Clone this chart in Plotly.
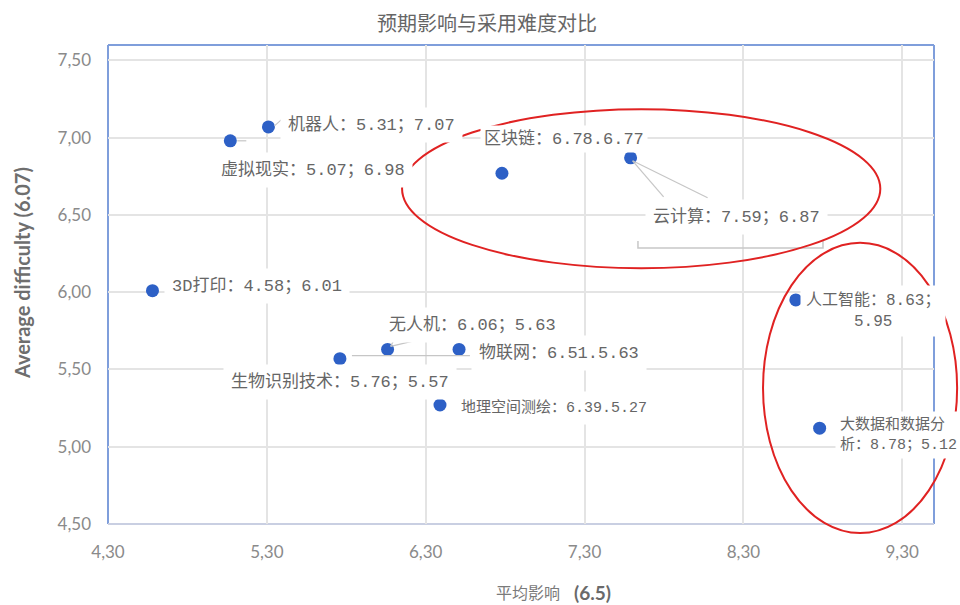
import plotly.graph_objects as go

# Technologies: expected impact (x) vs adoption difficulty (y)
names = ["机器人", "虚拟现实", "区块链", "云计算", "3D打印", "无人机",
         "物联网", "生物识别技术", "地理空间测绘", "人工智能", "大数据和数据分析"]
impact = [5.31, 5.07, 6.78, 7.59, 4.58, 6.06, 6.51, 5.76, 6.39, 8.63, 8.78]
difficulty = [7.07, 6.98, 6.77, 6.87, 6.01, 5.63, 5.63, 5.57, 5.27, 5.95, 5.12]

# label templates (separator style varies per label)
label_tpl = ["{n}：{x}；{y}", "{n}：{x}；{y}", "{n}：{x}.{y}", "{n}：{x}；{y}",
             "{n}：{x}；{y}", "{n}：{x}；{y}", "{n}：{x}.{y}", "{n}：{x}；{y}",
             "{n}：{x}.{y}", "{n}：{x}；<br>{y}", "大数据和数据分<br>析：{x}；{y}"]

x_ticks = [4.3, 5.3, 6.3, 7.3, 8.3, 9.3]
y_ticks = [4.5, 5.0, 5.5, 6.0, 6.5, 7.0, 7.5]

# label placement: (xanchor, text x offset, yshift, align, font size, box padding)
label_pos = [
    ("left", 19, 2, "left", 17, 7),
    ("left", -10, -29, "left", 17, 7),
    ("left", -19, 34, "left", 17, 3),
    ("left", 21, -59, "left", 17, 7),
    ("left", 19, 5, "left", 17, 7),
    ("left", 0, 24, "left", 17, 7),
    ("left", 19, -4, "left", 17, 7),
    ("center", 0, -23, "left", 17, 7),
    ("left", 20, -3, "left", 15, 7),
    ("left", 9, -11, "center", 16, 5),
    ("left", 19, -7, "left", 15, 4),
]

# leader lines in pixel offsets from the point (x right, y up)
leaders = {
    "机器人": [((6, 1), (15, 9))],
    "虚拟现实": [((7, 0), (16, 0))],
    "云计算": [((2, -3), (33, -39)), ((2, -3), (77, -40))],
    "无人机": [((3, 3), (10, 16)), ((3, 3), (67, 18))],
    "生物识别技术": [((12, 3), (130, 3))],
}

label_font = "Liberation Mono, Noto Sans CJK SC"
grey_text = "#666666"

fig = go.Figure()
fig.add_trace(go.Scatter(
    x=impact, y=difficulty, mode="markers",
    marker=dict(size=13, color="#2d60c6", line=dict(width=0)),
    hoverinfo="skip", showlegend=False,
))

annotations = []
for n, xv, yv, tpl, (xa, xo, ys, al, fs, pad) in zip(names, impact, difficulty, label_tpl, label_pos):
    annotations.append(dict(
        x=xv, y=yv, xref="x", yref="y", showarrow=False,
        text=tpl.format(n=n, x=f"{xv:.2f}", y=f"{yv:.2f}"),
        xanchor=xa, yanchor="middle",
        xshift=xo - pad if xa == "left" else xo, yshift=ys, align=al,
        font=dict(family=label_font, size=fs, color=grey_text),
        bgcolor="white", borderpad=pad,
    ))

# chart title and axis titles
annotations += [
    dict(text="预期影响与采用难度对比", x=0.459, y=1.047, xref="paper", yref="paper",
         showarrow=False, xanchor="center", yanchor="middle",
         font=dict(family="Noto Sans CJK SC", size=20, color="#666666")),
    dict(text="<b>Average difficulty (6.07)</b>", x=-0.104, y=0.524, xref="paper", yref="paper",
         textangle=-90, showarrow=False, xanchor="center", yanchor="middle",
         font=dict(family="Lato", size=20, color="#6e6e6e")),
    dict(text="平均影响", x=0.55, y=-0.142, xref="paper", yref="paper", showarrow=False,
         xanchor="right", yanchor="middle",
         font=dict(family="Noto Sans CJK SC", size=16, color="#7a7a7a")),
    dict(text="<b>(6.5)</b>", x=0.562, y=-0.142, xref="paper", yref="paper", showarrow=False,
         xanchor="left", yanchor="middle",
         font=dict(family="Lato", size=19, color="#6a6a6a")),
]

shapes = []
# leader lines anchored on each point
for n, xv, yv in zip(names, impact, difficulty):
    for (x0, y0), (x1, y1) in leaders.get(n, []):
        shapes.append(dict(
            type="line", xref="x", yref="y",
            xsizemode="pixel", ysizemode="pixel", xanchor=xv, yanchor=yv,
            x0=x0, y0=y0, x1=x1, y1=y1,
            line=dict(color="#c6c6c6", width=1.2), layer="above",
        ))

# bracket under the cloud-computing callout
shapes.append(dict(type="path", xref="paper", yref="paper",
                   path="M0.6416,0.5908 L0.6416,0.5762 L0.8656,0.5762 L0.8656,0.5908",
                   line=dict(color="#c8c8c8", width=1.5), layer="above"))

# plot frame
blue = "#7f9edb"
shapes += [
    dict(type="line", xref="paper", yref="paper", x0=0, x1=0, y0=0, y1=1,
         line=dict(color=blue, width=2), layer="below"),
    dict(type="line", xref="paper", yref="paper", x0=0, x1=1, y0=1, y1=1,
         line=dict(color=blue, width=2), layer="below"),
    dict(type="line", xref="paper", yref="paper", x0=1, x1=1, y0=0, y1=1,
         line=dict(color=blue, width=2), layer="below"),
    dict(type="line", xref="paper", yref="paper", x0=0, x1=1, y0=0, y1=0,
         line=dict(color="#c9cfe2", width=2), layer="below"),
]

# hand-drawn highlight ellipses
red = "#e02222"
shapes += [
    dict(type="circle", xref="paper", yref="paper",
         x0=0.356, x1=0.935, y0=0.534, y1=0.866,
         line=dict(color=red, width=2), layer="above"),
    dict(type="circle", xref="paper", yref="paper",
         x0=0.793, x1=1.028, y0=-0.019, y1=0.587,
         line=dict(color=red, width=2), layer="above"),
]

fig.update_layout(
    width=960, height=605,
    margin=dict(l=108, r=26, t=45, b=81),
    paper_bgcolor="white", plot_bgcolor="white",
    separators=",.",
    showlegend=False,
    annotations=annotations,
    shapes=shapes,
    xaxis=dict(range=[4.3, 9.5], tickvals=x_ticks, tickformat=".2f",
               showgrid=True, gridcolor="#e4e4e4", gridwidth=1.5,
               zeroline=False, showline=False, ticks="",
               ticklabelstandoff=16,
               tickfont=dict(family="Lato", size=17, color="#8a8a8a")),
    yaxis=dict(range=[4.5, 7.6], tickvals=y_ticks, tickformat=".2f",
               showgrid=True, gridcolor="#e4e4e4", gridwidth=1.5,
               zeroline=False, showline=False, ticks="",
               ticklabelstandoff=16,
               tickfont=dict(family="Lato", size=17, color="#8a8a8a")),
)

fig.write_html("out.html")
